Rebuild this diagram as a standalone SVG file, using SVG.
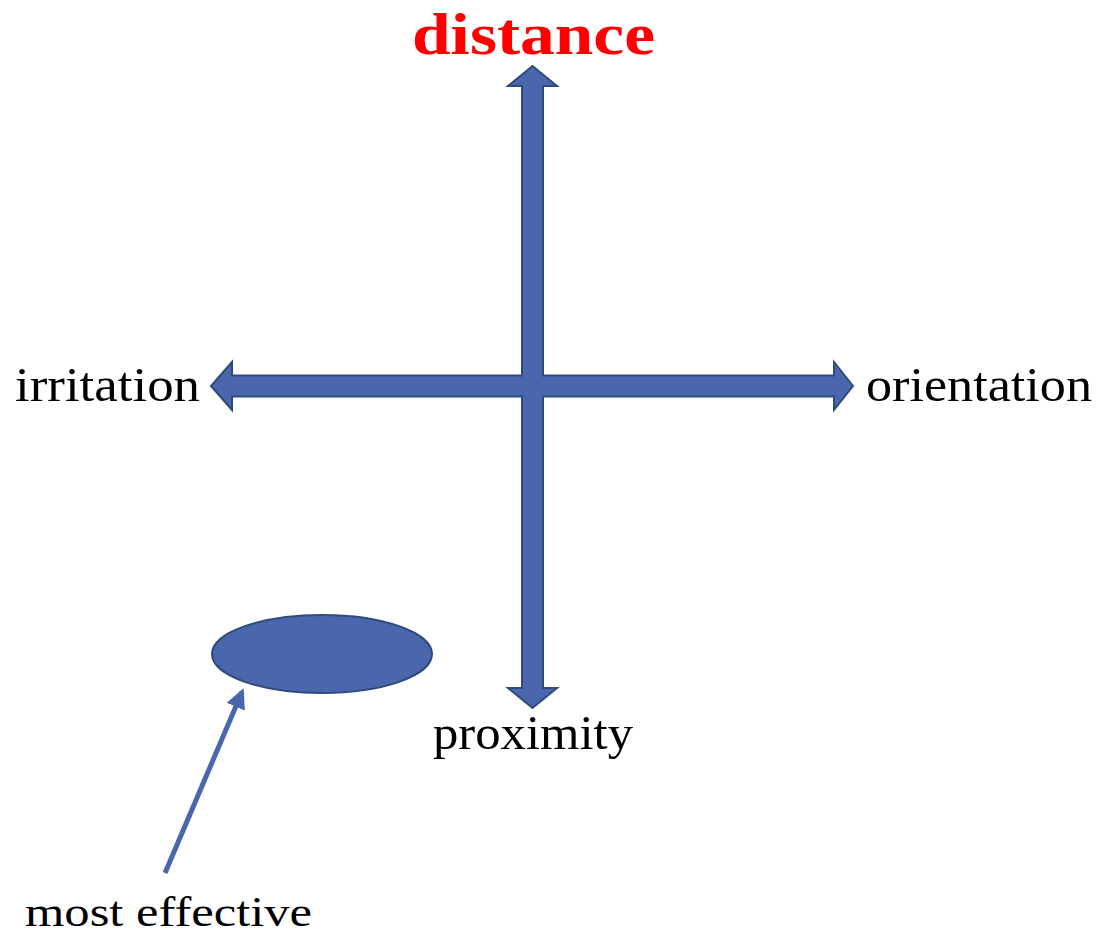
<svg xmlns="http://www.w3.org/2000/svg" width="1099" height="936" viewBox="0 0 1099 936">
<style>
.lbl{font-family:"Liberation Serif","Times New Roman",serif;font-size:48px;fill:#000}
.title{font-family:"Liberation Serif","Times New Roman",serif;font-size:60px;font-weight:bold;fill:#ff0000}
.shape{fill:#4a67ad;stroke:#2f4b7c;stroke-width:2;stroke-linejoin:miter}
</style>
<defs>
<marker id="ah" markerWidth="4" markerHeight="4" refX="3.2" refY="2" orient="auto" markerUnits="strokeWidth">
<path d="M0,0 L4,2 L0,4 Z" fill="#4a67ad"/>
</marker>
</defs>
<rect width="1099" height="936" fill="#fff"/>
<g id="cross">
<path class="shape" d="M532.5,66 L557,86 L543,86 L543,375.5 L834,375.5 L834,362 L853,386 L834,410 L834,396.5 L543,396.5 L543,688 L557,688 L532.5,708 L508,688 L522,688 L522,396.5 L232,396.5 L232,410 L211,386 L232,362 L232,375.5 L522,375.5 L522,86 L508,86 Z"/>
</g>
<g id="ellipse">
<ellipse class="shape" cx="322" cy="654" rx="110" ry="39"/>
</g>
<g id="connectors">
<line x1="165" y1="873" x2="242" y2="692" stroke="#4a67ad" stroke-width="5" marker-end="url(#ah)"/>
</g>
<g id="label-distance"><text class="title" x="412" y="54" textLength="243" lengthAdjust="spacingAndGlyphs">distance</text></g>
<g id="label-irritation"><text class="lbl" x="15" y="401" textLength="185" lengthAdjust="spacingAndGlyphs">irritation</text></g>
<g id="label-orientation"><text class="lbl" x="866" y="401" textLength="226" lengthAdjust="spacingAndGlyphs">orientation</text></g>
<g id="label-proximity"><text class="lbl" x="433" y="749" textLength="200" lengthAdjust="spacingAndGlyphs">proximity</text></g>
<g id="label-most-effective"><text class="lbl" x="25" y="926" style="font-size:42px" textLength="287" lengthAdjust="spacingAndGlyphs">most effective</text></g>
</svg>
